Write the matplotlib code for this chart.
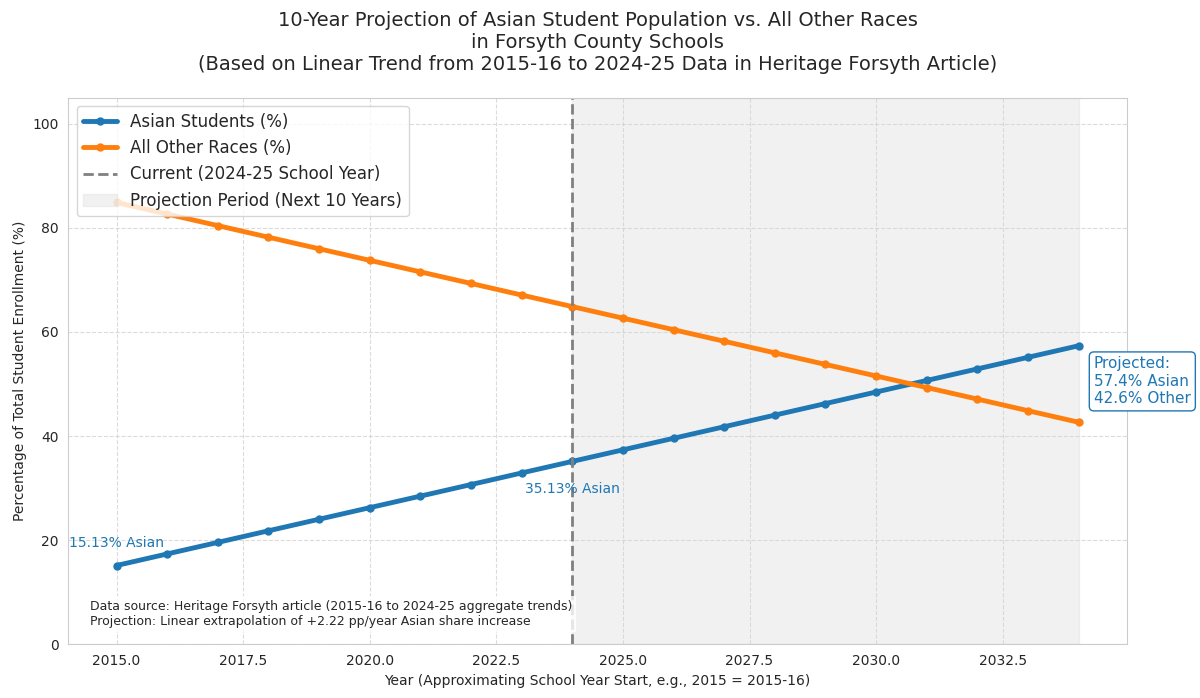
import matplotlib
matplotlib.use("Agg")
import matplotlib.pyplot as plt
import seaborn as sns

# Data
years = [2015, 2016, 2017, 2018, 2019, 2020, 2021, 2022, 2023, 2024,
         2025, 2026, 2027, 2028, 2029, 2030, 2031, 2032, 2033, 2034]
asian_pct = [15.13, 17.35, 19.57, 21.80, 24.02, 26.24, 28.46, 30.68, 32.91, 35.13,
             37.35, 39.57, 41.79, 44.02, 46.24, 48.46, 50.68, 52.90, 55.13, 57.35]
other_pct = [84.87, 82.65, 80.43, 78.20, 75.98, 73.76, 71.54, 69.32, 67.09, 64.87,
             62.65, 60.43, 58.21, 55.98, 53.76, 51.54, 49.32, 47.10, 44.87, 42.65]
current_year = 2024
proj_end = 2034

sns.set_style("whitegrid", {"grid.linestyle": "--"})
plt.rcParams['font.family'] = ['DejaVu Sans']

fig, ax = plt.subplots(figsize=(12, 6.98), dpi=100)
plt.subplots_adjust(left=0.057, right=0.939, bottom=0.077, top=0.860)

ax.plot(years, asian_pct, marker='o', markersize=5, linewidth=3.5, color='#1f77b4', label='Asian Students (%)')
ax.plot(years, other_pct, marker='o', markersize=5, linewidth=3.5, color='#ff7f0e', label='All Other Races (%)')
ax.axvline(current_year, color='gray', linestyle='--', linewidth=2, label='Current (2024-25 School Year)')
ax.axvspan(current_year, proj_end, color='lightgray', alpha=0.3, label='Projection Period (Next 10 Years)')

# annotations
ax.text(years[0], asian_pct[0] + 3, f'{asian_pct[0]:.2f}% Asian', color='#1f77b4',
        ha='center', va='bottom', fontsize=10)
i_cur = years.index(current_year)
ax.text(current_year, asian_pct[i_cur] - 4, f'{asian_pct[i_cur]:.2f}% Asian', color='#1f77b4',
        ha='center', va='top', fontsize=10)
ax.text(proj_end + 0.3, 50.5, f'Projected:\n{asian_pct[-1]:.1f}% Asian\n{other_pct[-1]:.1f}% Other',
        color='#1f77b4', ha='left', va='center', fontsize=11,
        bbox=dict(boxstyle='round,pad=0.3', fc='white', ec='#1f77b4'))

ax.text(0.02, 0.03, 'Data source: Heritage Forsyth article (2015-16 to 2024-25 aggregate trends)\n'
        'Projection: Linear extrapolation of +2.22 pp/year Asian share increase',
        transform=ax.transAxes, fontsize=9, va='bottom', ha='left',
        bbox=dict(boxstyle='square,pad=0.3', fc='white', ec='none', alpha=0.8))

ax.set_ylim(0, 105)
ax.grid(True, linestyle='--', alpha=0.7)
ax.set_title('10-Year Projection of Asian Student Population vs. All Other Races\n'
             'in Forsyth County Schools\n'
             '(Based on Linear Trend from 2015-16 to 2024-25 Data in Heritage Forsyth Article)',
             fontsize=14, pad=20)
ax.set_xlabel('Year (Approximating School Year Start, e.g., 2015 = 2015-16)', fontsize=10)
ax.set_ylabel('Percentage of Total Student Enrollment (%)', fontsize=10)
ax.tick_params(labelsize=10)
ax.legend(loc='upper left', fontsize=12)

fig.savefig('out.png', dpi=100)
